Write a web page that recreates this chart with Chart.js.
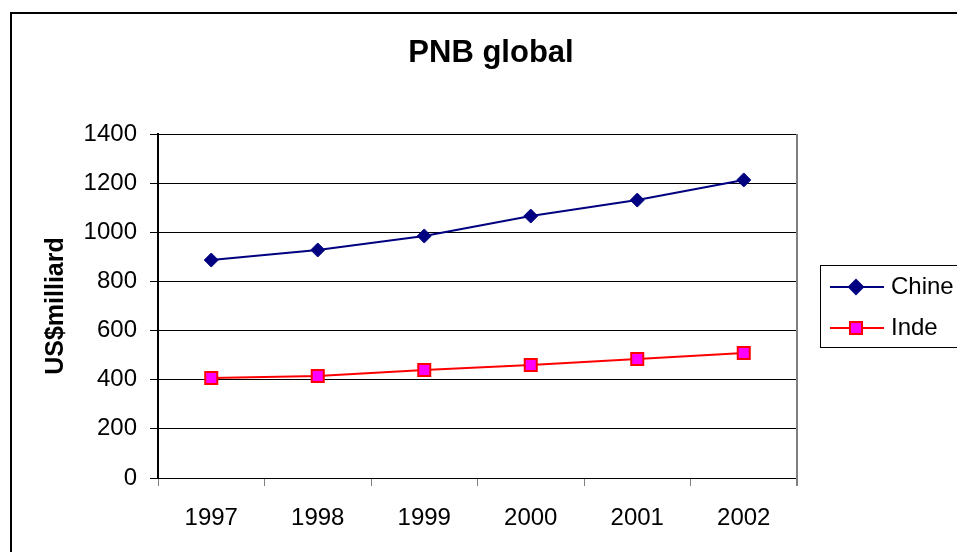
<!DOCTYPE html>
<html lang="fr">
<head>
<meta charset="UTF-8">
<title>PNB global</title>
<script src="https://cdn.jsdelivr.net/npm/chart.js@4.4.1/dist/chart.umd.min.js"></script>
<style>
    html, body {
        margin: 0;
        padding: 0;
        background: #fff;
    }
    #wrap {
        width: 957px;
        height: 552px;
    }
</style>
</head>
<body>
<div id="wrap"><canvas id="pnbChart" width="957" height="552"></canvas></div>
<script>
    // data (US$ milliard)
    const years = ['1997', '1998', '1999', '2000', '2001', '2002'];
    const chine = [887, 928, 985, 1066, 1131, 1213];
    const inde = [407, 415, 440, 460, 484, 509];
    const yTicks = [0, 200, 400, 600, 800, 1000, 1200, 1400];

    const FONT = '"Liberation Sans", Arial, sans-serif';

    // frame, title, plot border and legend box like the Excel original
    const decor = {
        id: 'decor',
        afterDraw(chart) {
            const ctx = chart.ctx;
            const area = chart.chartArea;
            ctx.save();

            // outer frame
            ctx.strokeStyle = '#000';
            ctx.lineWidth = 2;
            ctx.strokeRect(11, 13, 1000, 1000);

            // title
            ctx.fillStyle = '#000';
            ctx.font = 'bold 31px ' + FONT;
            ctx.textAlign = 'center';
            ctx.textBaseline = 'middle';
            ctx.fillText('PNB global', 491, 53);

            // right edge of plot area
            ctx.strokeStyle = '#808080';
            ctx.lineWidth = 2;
            ctx.beginPath();
            ctx.moveTo(area.right, area.top);
            ctx.lineTo(area.right, area.bottom + 8);
            ctx.stroke();

            // legend
            ctx.strokeStyle = '#000';
            ctx.lineWidth = 1;
            ctx.fillStyle = '#fff';
            ctx.fillRect(820.5, 265.5, 200, 82);
            ctx.strokeRect(820.5, 265.5, 200, 82);

            const rows = [287, 328];
            chart.data.datasets.forEach((ds, i) => {
                const y = rows[i];
                ctx.strokeStyle = ds.borderColor;
                ctx.lineWidth = ds.borderWidth;
                ctx.beginPath();
                ctx.moveTo(830, y);
                ctx.lineTo(884, y);
                ctx.stroke();

                ctx.fillStyle = ds.pointBackgroundColor;
                ctx.strokeStyle = ds.pointBorderColor;
                Chart.helpers.drawPoint(ctx, {
                    pointStyle: ds.pointStyle,
                    radius: ds.pointRadius,
                    borderWidth: ds.pointBorderWidth,
                    rotation: 0
                }, 856, y);

                ctx.fillStyle = '#000';
                ctx.font = '24px ' + FONT;
                ctx.textAlign = 'left';
                ctx.textBaseline = 'middle';
                ctx.fillText(ds.label, 891, y);
            });

            ctx.restore();
        }
    };

    new Chart(document.getElementById('pnbChart'), {
        type: 'line',
        data: {
            labels: years,
            datasets: [{
                label: 'Chine',
                data: chine,
                borderColor: '#000080',
                borderWidth: 2,
                pointStyle: 'rectRot',
                pointRadius: 7,
                pointBackgroundColor: '#000080',
                pointBorderColor: '#000080',
                pointBorderWidth: 1,
                tension: 0
            }, {
                label: 'Inde',
                data: inde,
                borderColor: '#ff0000',
                borderWidth: 2,
                pointStyle: 'rect',
                pointRadius: 8.5,
                pointBackgroundColor: '#ff00ff',
                pointBorderColor: '#ff0000',
                pointBorderWidth: 2,
                tension: 0
            }]
        },
        options: {
            responsive: false,
            animation: false,
            layout: {
                padding: { top: 134, right: 160, bottom: 14, left: 20 }
            },
            plugins: {
                legend: { display: false },
                title: { display: false },
                tooltip: { enabled: false }
            },
            scales: {
                x: {
                    offset: true,
                    afterFit: s => { s.height = 60; },
                    grid: {
                        drawOnChartArea: false,
                        drawTicks: true,
                        tickLength: 8,
                        color: '#808080',
                        offset: true
                    },
                    border: { color: '#000', width: 1 },
                    ticks: {
                        color: '#000',
                        font: { family: FONT, size: 24 },
                        padding: 18,
                        maxRotation: 0
                    }
                },
                y: {
                    min: 0,
                    max: 1400,
                    afterFit: s => { s.width = 138; },
                    afterBuildTicks: s => { s.ticks = yTicks.map(v => ({ value: v })); },
                    grid: {
                        color: '#000',
                        lineWidth: 1,
                        tickLength: 8
                    },
                    border: { color: '#000', width: 2 },
                    ticks: {
                        color: '#000',
                        font: { family: FONT, size: 24 },
                        padding: 13,
                        callback: v => String(v)
                    },
                    title: {
                        display: true,
                        text: 'US$milliard',
                        color: '#000',
                        font: { family: FONT, size: 25, weight: 'bold' },
                        padding: { top: 21, bottom: 0 }
                    }
                }
            }
        },
        plugins: [decor]
    });
</script>
</body>
</html>
